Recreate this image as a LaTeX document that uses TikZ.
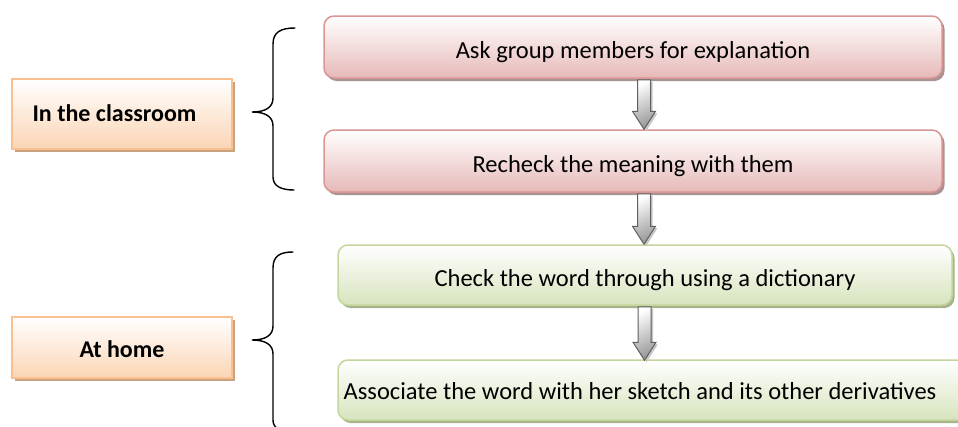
\documentclass[tikz,border=0pt]{standalone}
\usepackage{fontspec}
\setmainfont{Carlito}
\usetikzlibrary{calc,shadows}

\definecolor{redline}{HTML}{D99694}
\definecolor{redfill}{HTML}{E6B9B8}
\definecolor{redshadow}{HTML}{A89292}
\definecolor{greenline}{HTML}{C3D69B}
\definecolor{greenfill}{HTML}{D7E4BD}
\definecolor{greenshadow}{HTML}{A8B38C}
\definecolor{orangeline}{HTML}{FAC090}
\definecolor{orangefill}{HTML}{FBD5B5}
\definecolor{orangeshadow}{HTML}{C9A27F}
\definecolor{arrowline}{HTML}{5F5F5F}

% block arrow drawn downwards from #1 to the tip at #2
\newcommand{\blockarrow}[2]{%
  \path[blockarrow] let \p1=(#1), \p2=(#2) in
    (\x1-6.5pt,\y1) -- (\x1+6.5pt,\y1) -- (\x1+6.5pt,\y2+18pt)
    -- (\x1+11.5pt,\y2+18pt) -- (\x1,\y2) -- (\x1-11.5pt,\y2+18pt)
    -- (\x1-6.5pt,\y2+18pt) -- cycle;}

\begin{document}
\begin{tikzpicture}[x=1pt,y=-1pt,
  txt/.style={font=\fontsize{24.5}{28}\selectfont, inner sep=0pt},
  boxbase/.style={line width=1.5pt, inner sep=0pt, font=\fontsize{24.5}{28}\selectfont},
  steptext/.style={text height=22pt, text depth=0pt},
  redbox/.style={boxbase, steptext, rounded corners=10pt, draw=redline,
    top color=white, bottom color=redfill,
    drop shadow={shadow xshift=2.5pt, shadow yshift=-3pt, fill=redshadow, opacity=1}},
  greenbox/.style={boxbase, steptext, rounded corners=10pt, draw=greenline,
    top color=white, bottom color=greenfill,
    drop shadow={shadow xshift=2.5pt, shadow yshift=-3pt, fill=greenshadow, opacity=1}},
  placebox/.style={boxbase, draw=orangeline, top color=white, bottom color=orangefill,
    font=\fontsize{24}{28}\selectfont\bfseries,
    drop shadow={shadow xshift=3pt, shadow yshift=-3pt, fill=orangeshadow, opacity=1}},
  blockarrow/.style={draw=arrowline, line width=1pt, line join=miter,
    shading=axis, top color=white, bottom color=gray!80, shading angle=25,
    drop shadow={shadow xshift=2pt, shadow yshift=-2pt, fill=gray!45, opacity=1}},
  brace/.style={draw=black, line width=1.4pt, line cap=round}
]
\useasboundingbox (0,0) rectangle (958,426);

% place labels
\node[placebox, minimum width=220, minimum height=70] (class) at (122,114) {};
\node[txt, font=\fontsize{24}{28}\selectfont\bfseries] (classtxt) at (114.5,113) {In the classroom};
\node[placebox, minimum width=220, minimum height=61, text height=19pt, text depth=0pt] (home) at (122,347.5) {At home};

% steps
\node[redbox, minimum width=618, minimum height=62] (r1) at (633,47) {Ask group members for explanation};
\node[redbox, minimum width=618, minimum height=62] (r2) at (633,161) {Recheck the meaning with them};
\node[greenbox, minimum width=614, minimum height=60] (g1) at (645,275) {Check the word through using a dictionary};
\node[greenbox, minimum width=630, minimum height=60] (g2) at (653,390) {};
\node[txt, text height=18pt, text depth=0pt] (g2txt) at (640,390) {Associate the word with her sketch and its other derivatives};

% arrows between steps
\coordinate (a1s) at ($(r1.south)+(11,1)$);
\coordinate (a1e) at ($(r2.north)+(11,0)$);
\coordinate (a2s) at ($(r2.south)+(11,1)$);
\coordinate (a2e) at ($(g1.north)+(-1,0)$);
\coordinate (a3s) at ($(g1.south)+(-0.5,1)$);
\coordinate (a3e) at ($(g2.north)+(-8.5,1)$);
\blockarrow{a1s}{a1e}
\blockarrow{a2s}{a2e}
\blockarrow{a3s}{a3e}

% braces
\coordinate (b1top) at (295,28);
\coordinate (b1tip) at (252,112);
\coordinate (b1bot) at (294,190);
\draw[brace] (b1top) .. controls (281,28) and (273,32) .. (273,44)
  -- (273,98) .. controls (273,107) and (266,112) .. (b1tip)
  .. controls (266,112) and (273,117) .. (273,126)
  -- (273,177) .. controls (273,186) and (281,190) .. (b1bot);

\coordinate (b2top) at (293,252);
\coordinate (b2tip) at (252,340);
\coordinate (b2bot) at (292,432);
\draw[brace] (b2top) .. controls (280,252) and (273,256) .. (273,268)
  -- (273,326) .. controls (273,335) and (266,340) .. (b2tip)
  .. controls (266,340) and (273,345) .. (273,354)
  -- (273,420) .. controls (273,428) and (280,432) .. (b2bot);
\end{tikzpicture}
\end{document}
